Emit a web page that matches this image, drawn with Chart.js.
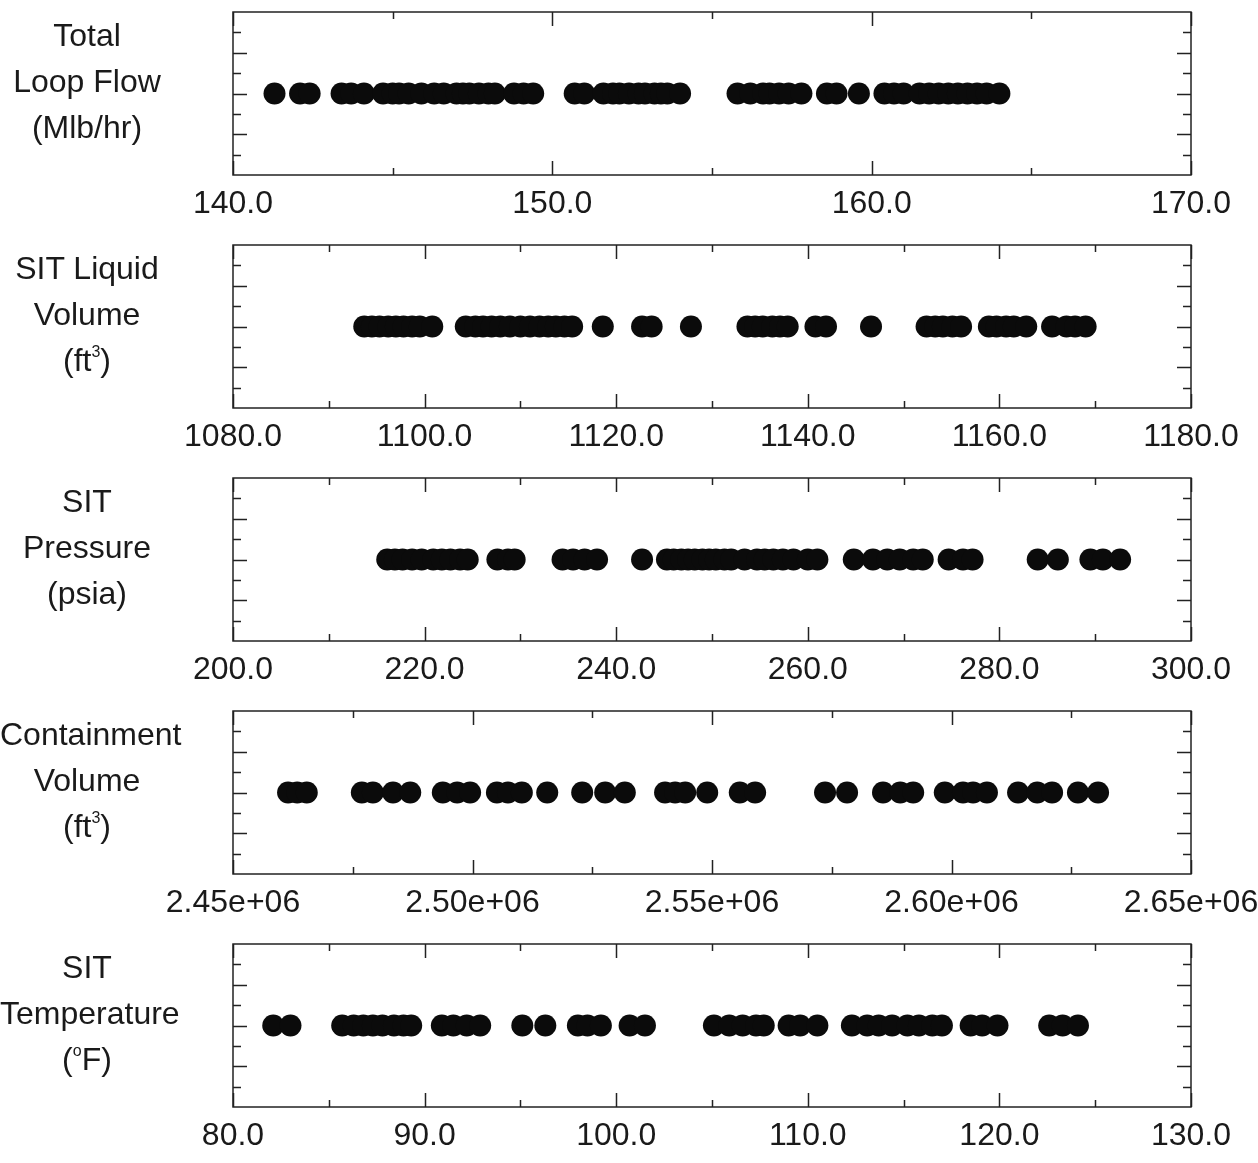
<!DOCTYPE html>
<html lang="en">
<head>
    <meta charset="UTF-8">
    <title>Sampled inputs</title>
    <script src="https://cdn.jsdelivr.net/npm/chart.js@4.4.1/dist/chart.umd.min.js"></script>
    <style>
        body { margin: 0; background: #fff; overflow: hidden; }
        .panel { position: absolute; left: 0; width: 1258px; height: 233px; }
        .panel canvas { position: absolute; left: 0; top: 0; }
        .lbl {
            position: absolute; left: 0; top: 12px; width: 174px;
            font-family: "Liberation Sans", Arial, sans-serif; font-size: 32px;
            line-height: 46px; text-align: center; color: #1a1a1a;
        }
        .lbl sup { font-size: 16px; line-height: 0; vertical-align: 14px; }
    </style>
</head>
<body>
    <div id="wrap"></div>
    <script>
        var loopFlow = [141.3, 142.1, 142.4, 143.4, 143.7, 144.1, 144.7, 145.0, 145.2, 145.5,
            145.9, 146.3, 146.6, 147.0, 147.2, 147.4, 147.7, 148.0, 148.2, 148.8, 149.1, 149.4,
            150.7, 151.0, 151.6, 151.9, 152.1, 152.4, 152.7, 152.9, 153.2, 153.4, 153.6, 154.0,
            155.8, 156.2, 156.6, 156.8, 157.1, 157.4, 157.8, 158.6, 158.9, 159.6, 160.4, 160.7,
            161.0, 161.5, 161.8, 162.1, 162.4, 162.7, 163.0, 163.3, 163.6, 164.0];

        var sitLiquidVolume = [1093.7, 1094.5, 1095.3, 1096.2, 1097.0, 1097.8, 1098.7, 1099.5, 1100.8,
            1104.3, 1105.3, 1106.1, 1107.0, 1107.9, 1108.9, 1110.0, 1111.0, 1112.0, 1112.9, 1113.7,
            1114.6, 1115.4, 1118.6, 1122.7, 1123.7, 1127.8, 1133.7, 1134.5, 1135.3, 1136.3, 1137.1,
            1137.9, 1140.8, 1141.9, 1146.6, 1152.4, 1153.3, 1154.1, 1155.1, 1156.0, 1158.9, 1159.7,
            1160.7, 1161.5, 1162.8, 1165.5, 1167.0, 1167.9, 1169.0];

        var sitPressure = [216.1, 216.9, 217.7, 218.7, 219.7, 220.9, 221.8, 222.7, 223.7, 224.5,
            227.6, 228.7, 229.4, 234.4, 235.5, 236.7, 238.0, 242.7, 245.3, 246.0, 246.8, 247.5,
            248.2, 249.0, 249.7, 250.4, 251.3, 252.0, 253.4, 254.7, 255.5, 256.4, 257.4, 258.5,
            260.0, 261.0, 264.8, 266.8, 268.3, 269.6, 271.0, 272.0, 274.7, 276.2, 277.2, 284.0,
            286.1, 289.5, 290.8, 292.6];

        var containmentVolume = [2461500, 2463400, 2465400, 2476900, 2479200, 2483400, 2487000,
            2493800, 2496800, 2499500, 2505100, 2507400, 2510300, 2515600, 2522900, 2527700,
            2531800, 2540200, 2542300, 2544400, 2549000, 2555800, 2559000, 2573600, 2578200,
            2585700, 2589300, 2592000, 2598600, 2602400, 2604500, 2607400, 2613900, 2617900,
            2621000, 2626400, 2630600];

        var sitTemperature = [82.1, 83.0, 85.7, 86.3, 86.8, 87.3, 87.8, 88.4, 88.9, 89.3, 90.9,
            91.5, 92.2, 92.9, 95.1, 96.3, 98.0, 98.5, 99.2, 100.7, 101.5, 105.1, 105.9, 106.6,
            107.3, 107.7, 109.0, 109.6, 110.5, 112.3, 113.1, 113.7, 114.4, 115.2, 115.8, 116.5,
            117.0, 118.5, 119.1, 119.9, 122.6, 123.3, 124.1];

        // axis ranges: [min, max, minor step, labelled step]
        var loopFlowAxis = [140, 170, 5, 10];
        var liquidAxis = [1080, 1180, 10, 20];
        var pressureAxis = [200, 300, 10, 20];
        var containmentAxis = [2450000, 2650000, 25000, 50000];
        var temperatureAxis = [80, 130, 5, 10];

        var panelLabels = [
            'Total<br>Loop Flow<br>(Mlb/hr)',
            'SIT Liquid<br>Volume<br>(ft<sup>3</sup>)',
            'SIT<br>Pressure<br>(psia)',
            'Containment<br>Volume<br>(ft<sup>3</sup>)',
            'SIT<br>Temperature<br>(<sup>o</sup>F)'
        ];

        function fixed1(v) { return v.toFixed(1); }
        function sci(v) { return v.toExponential(2).replace(/e([+-])(\d)$/, 'e$10$2'); }

        var panels = [
            { data: loopFlow, axis: loopFlowAxis, fmt: fixed1 },
            { data: sitLiquidVolume, axis: liquidAxis, fmt: fixed1 },
            { data: sitPressure, axis: pressureAxis, fmt: fixed1 },
            { data: containmentVolume, axis: containmentAxis, fmt: sci },
            { data: sitTemperature, axis: temperatureAxis, fmt: fixed1 }
        ];

        function isMulti(v, step) {
            var r = v / step;
            return Math.abs(r - Math.round(r)) < 1e-6;
        }

        // frame plus inward tick marks on all four sides
        var frameTicks = {
            id: 'frameTicks',
            afterDraw: function(chart) {
                var ctx = chart.ctx, a = chart.chartArea;
                var x = chart.scales.x, y = chart.scales.y;
                var major = chart.options.plugins.frameTicks.major;
                ctx.save();
                ctx.strokeStyle = '#222';
                ctx.lineWidth = 1.5;
                ctx.beginPath();
                x.ticks.forEach(function(t) {
                    var px = Math.round(x.getPixelForValue(t.value)) + 0.5;
                    var len = isMulti(t.value - x.min, major) ? 14 : 7;
                    ctx.moveTo(px, a.top); ctx.lineTo(px, a.top + len);
                    ctx.moveTo(px, a.bottom); ctx.lineTo(px, a.bottom - len);
                });
                y.ticks.forEach(function(t) {
                    if (Math.abs(t.value) > 0.99) return;
                    var py = Math.round(y.getPixelForValue(t.value)) + 0.5;
                    var len = isMulti(t.value, 0.5) ? 14 : 8;
                    ctx.moveTo(a.left, py); ctx.lineTo(a.left + len, py);
                    ctx.moveTo(a.right, py); ctx.lineTo(a.right - len, py);
                });
                ctx.stroke();
                ctx.strokeRect(a.left, a.top, a.right - a.left, a.bottom - a.top);
                ctx.restore();
            }
        };

        var wrap = document.getElementById('wrap');

        panels.forEach(function(p, i) {
            var div = document.createElement('div');
            div.className = 'panel';
            div.style.top = (i * 233) + 'px';
            var cv = document.createElement('canvas');
            cv.width = 1258; cv.height = 233;
            div.appendChild(cv);
            var lbl = document.createElement('div');
            lbl.className = 'lbl';
            lbl.innerHTML = panelLabels[i];
            div.appendChild(lbl);
            wrap.appendChild(div);

            var ax = p.axis;
            new Chart(cv.getContext('2d'), {
                type: 'scatter',
                data: {
                    datasets: [{
                        data: p.data.map(function(v) { return { x: v, y: 0 }; }),
                        backgroundColor: '#0b0b0b',
                        borderWidth: 0,
                        pointRadius: 11,
                        pointHoverRadius: 11
                    }]
                },
                options: {
                    responsive: false,
                    animation: false,
                    devicePixelRatio: 1,
                    events: [],
                    layout: { padding: { top: 12, left: 233, right: 67, bottom: 0 } },
                    plugins: {
                        legend: { display: false },
                        tooltip: { enabled: false },
                        frameTicks: { major: ax[3] }
                    },
                    scales: {
                        x: {
                            type: 'linear',
                            min: ax[0], max: ax[1],
                            grid: { display: false, drawTicks: false },
                            border: { display: false },
                            ticks: {
                                stepSize: ax[2],
                                autoSkip: false,
                                maxRotation: 0,
                                padding: 13,
                                color: '#1a1a1a',
                                font: { family: '"Liberation Sans", Arial, sans-serif', size: 32, lineHeight: 1 },
                                callback: function(v) {
                                    return isMulti(v - ax[0], ax[3]) ? p.fmt(v) : '';
                                }
                            },
                            afterFit: function(s) {
                                s.height = 58;
                                s.paddingLeft = 0;
                                s.paddingRight = 0;
                            }
                        },
                        y: {
                            display: false,
                            min: -1, max: 1,
                            ticks: { stepSize: 0.25 }
                        }
                    }
                },
                plugins: [frameTicks]
            });
        });
    </script>
</body>
</html>
